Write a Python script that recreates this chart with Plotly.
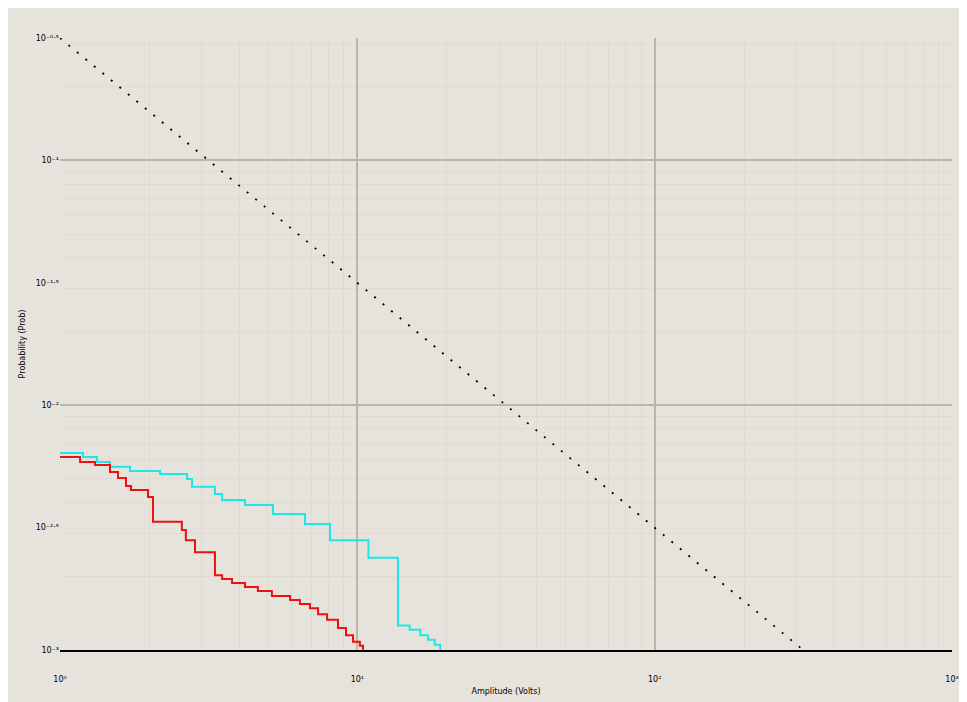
import plotly.graph_objects as go

# reference line (power-law), endpoints
ref_x = [1.0, 316.0]
ref_y = [0.316, 0.001]

# step series: start of each step (x) and level (y)
cyan_x = [1.0, 1.195, 1.332, 1.473, 1.720, 2.17, 2.675, 2.78, 3.32, 3.51, 4.19, 5.20,
          6.67, 8.09, 10.9, 13.7, 15.0, 16.3, 17.3, 18.2, 19.0]
cyan_y = [0.00638, 0.00614, 0.00586, 0.00560, 0.00539, 0.00524, 0.00500, 0.00464,
          0.00434, 0.00410, 0.00391, 0.00359, 0.00327, 0.00281, 0.00238, 0.00126,
          0.00121, 0.00115, 0.00110, 0.00105, 0.0009]

red_x = [1.0, 1.168, 1.311, 1.473, 1.567, 1.667, 1.733, 1.977, 2.055, 2.57, 2.65, 2.845,
         3.32, 3.51, 3.79, 4.19, 4.63, 5.16, 5.94, 6.41, 6.93, 7.38, 7.91, 8.61, 9.16,
         9.67, 10.2, 10.45]
red_y = [0.00614, 0.00586, 0.00570, 0.00534, 0.00504, 0.00468, 0.00450, 0.00422,
         0.00334, 0.00309, 0.00281, 0.00251, 0.00202, 0.00195, 0.00188, 0.00181,
         0.00174, 0.00166, 0.00160, 0.00154, 0.00148, 0.00140, 0.00133, 0.00123,
         0.00115, 0.00108, 0.00104, 0.0009]

x_tickvals = [1, 10, 100, 1000]
x_ticktext = ["10⁰", "10¹", "10²", "10³"]
x_minor_vals = [2, 3, 4, 5, 6, 7, 8, 9, 20, 30, 40, 50, 60, 70, 80, 90,
                200, 300, 400, 500, 600, 700, 800, 900]
y_major_vals = [0.001, 0.01, 0.1]
y_major_text = ["10⁻³", "10⁻²", "10⁻¹"]
y_half_vals = [0.00316, 0.0316, 0.316]
y_half_text = ["10⁻²·⁵", "10⁻¹·⁵", "10⁻⁰·⁵"]
y_minor_vals = [0.002, 0.003, 0.004, 0.005, 0.006, 0.007, 0.008, 0.009,
                0.02, 0.03, 0.04, 0.05, 0.06, 0.07, 0.08, 0.09, 0.2, 0.3]

x_title = "Amplitude (Volts)"
y_title = "Probability (Prob)"

BG = "#e6e3dd"
GRID = "#bfb3a6"
MINOR = "#dfdbd4"

fig = go.Figure()
fig.add_trace(go.Scatter(x=ref_x, y=ref_y, mode="lines",
                         line=dict(color="black", width=1.8, dash="2px,9px"),
                         showlegend=False, hoverinfo="skip"))
fig.add_trace(go.Scatter(x=cyan_x, y=cyan_y, mode="lines", line_shape="hv",
                         line=dict(color="#1ee6e6", width=2), showlegend=False))
fig.add_trace(go.Scatter(x=red_x, y=red_y, mode="lines", line_shape="hv",
                         line=dict(color="#ee1111", width=2), showlegend=False))
fig.add_trace(go.Scatter(x=[None], y=[None], yaxis="y2", showlegend=False,
                         hoverinfo="skip"))

fig.update_layout(
    width=967, height=702,
    margin=dict(l=52, r=23, t=30, b=60),
    paper_bgcolor=BG, plot_bgcolor=BG,
    font=dict(family="DejaVu Sans", size=8, color="black"),
    xaxis=dict(type="log", range=[0, 3], tickvals=x_tickvals, ticktext=x_ticktext,
               showgrid=True, gridcolor=GRID, gridwidth=1.5,
               minor=dict(tickvals=x_minor_vals, showgrid=True, gridcolor=MINOR,
                          gridwidth=1, ticks=""),
               showline=True, linecolor="black", linewidth=2, mirror=False,
               zeroline=False, ticks="", ticklabelstandoff=20,
               title=dict(text=x_title, standoff=6, font=dict(size=8))),
    yaxis=dict(type="log", range=[-3, -0.5], tickvals=y_major_vals,
               ticktext=y_major_text,
               showgrid=True, gridcolor=GRID, gridwidth=1.5,
               minor=dict(tickvals=y_minor_vals, showgrid=True, gridcolor=MINOR,
                          gridwidth=1, ticks=""),
               showline=False, zeroline=False, ticks="",
               title=dict(text=y_title, standoff=14, font=dict(size=8))),
    yaxis2=dict(type="log", range=[-3, -0.5], overlaying="y", side="left",
                tickvals=y_half_vals, ticktext=y_half_text,
                showgrid=False, zeroline=False, showline=False, ticks=""),
)

fig.write_html("out.html")
